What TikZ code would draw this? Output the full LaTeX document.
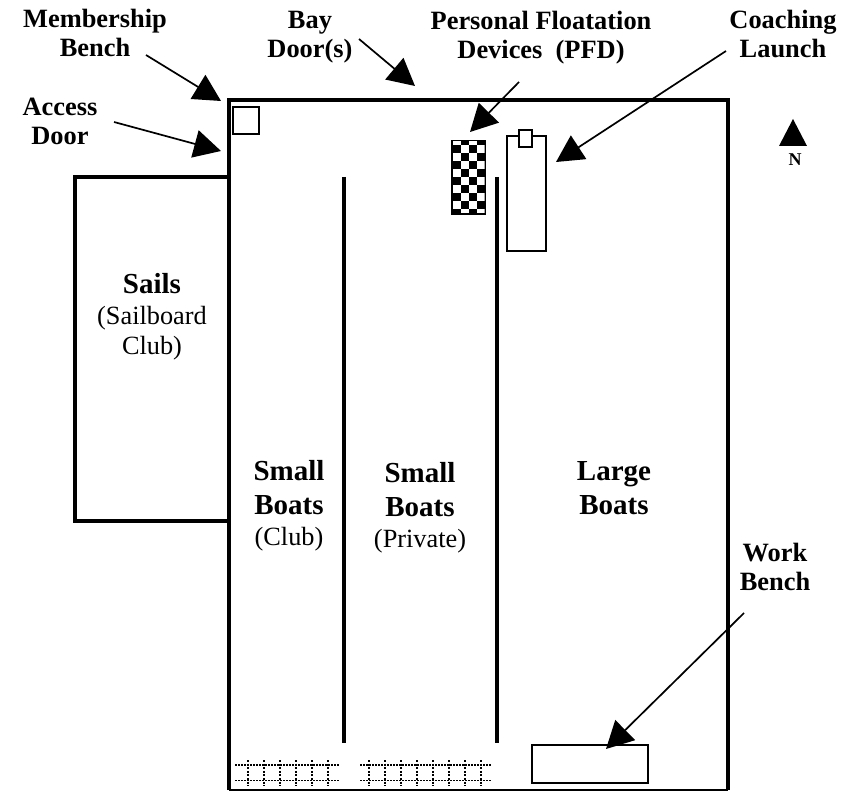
\documentclass[tikz,border=0pt]{standalone}
\usepackage{fontspec}
\setmainfont{Liberation Serif}
\usetikzlibrary{calc}
\usetikzlibrary{positioning}
\usetikzlibrary{arrows.meta}
\newcommand{\bigbf}[1]{{\fontsize{29}{34}\selectfont\bfseries #1}}
\tikzstyle{wall} = [line width=3.5pt]
\tikzstyle{thinwall} = [line width=2pt]
\tikzstyle{boxnode} = [draw, rectangle, line width=1.4pt, inner sep=0pt, fill=white]
\tikzstyle{lblnode} = [align=center, inner sep=0pt, font=\fontsize{26.4}{29}\selectfont\bfseries]
\tikzstyle{areanode} = [align=center, inner sep=0pt, font=\fontsize{26.3}{34}\selectfont]
\tikzstyle{pointer} = [line width=1.7pt, -{Triangle[length=27pt,width=28pt]}]
\tikzstyle{rack} = [line width=1.5pt, dash pattern=on 1.5pt off 1.5pt]
\tikzstyle{rackpost} = [line width=1.9pt, dash pattern=on 1.9pt off 1.7pt]

\begin{document}
\begin{tikzpicture}[x=1pt, y=-1pt]
  \useasboundingbox (0,0) rectangle (859,791);

  \draw[wall] (229,790) -- (229,100) -- (728,100) -- (728,790);
  \draw[thinwall] (229,790) -- (728,790);
  \draw[wall] (229,177) -- (75,177) -- (75,521) -- (229,521);
  \draw[wall] (344,177) -- (344,743);
  \draw[wall] (497,177) -- (497,743);

  \node[boxnode, minimum width=26pt, minimum height=27pt] (M_bench) at (246,120.5) {};
  \node[boxnode, minimum width=39pt, minimum height=115pt] (C_launch) at (526.5,193.5) {};
  \node[boxnode, minimum width=13pt, minimum height=17pt] (C_bow) at (525.5,138.5) {};
  \node[boxnode, minimum width=116pt, minimum height=38pt] (W_bench) at (590,764) {};
  \node[boxnode, fill=black, minimum width=33pt, minimum height=73pt] (PFD_rack) at (468.5,177.5) {};

  \begin{scope}
    \clip (453,142) rectangle (484.5,213);
    \foreach \r in {0,...,9} {
      \foreach \c in {0,...,3} {
        \pgfmathparse{int(mod(\r+\c,2))}
        \ifnum\pgfmathresult=0
          \fill[white] ({452.5+\c*8.2},{137+\r*8}) rectangle +(8.2,8);
        \fi
      }
    }
  \end{scope}

  \foreach \xa/\xb/\xc/\n in {235/340/248.3/5, 360/491/369.3/7} {
    \draw[rack] (\xa,765) -- (\xb,765);
    \draw[rack] (\xa,780.5) -- (\xb,780.5);
    \foreach \i in {0,...,\n} {
      \pgfmathsetmacro{\xv}{\xc+\i*16}
      \draw[rackpost] (\xv,760) -- (\xv,786);
    }
  }

  \node[lblnode] (L_memb) at (95,33) {Membership\\Bench};
  \node[lblnode] (L_access) at (60,121) {Access\\Door};
  \node[lblnode] (L_bay) at (310,37) {Bay\\Door(s)};
  \node[lblnode] (L_pfd) at (541,38) {Personal Floatation\\Devices\ \ (PFD)};
  \node[lblnode] (L_coach) at (783,34) {Coaching\\Launch};
  \node[lblnode] (L_work) at (775,567) {Work\\Bench};

  \node[areanode, font=\fontsize{26.3}{30.5}\selectfont] (A_sails) at (152,317) {\bigbf{Sails}\\(Sailboard\\Club)};
  \node[areanode] (A_club) at (289,506) {\bigbf{Small}\\\bigbf{Boats}\\[-3pt](Club)};
  \node[areanode] (A_priv) at (420,508) {\bigbf{Small}\\\bigbf{Boats}\\[-3pt](Private)};
  \node[areanode] (A_large) at (614,488.5) {\bigbf{Large}\\\bigbf{Boats}};

  \fill (793,119) -- (807,146) -- (779,146) -- cycle;
  \node[inner sep=0pt, font=\fontsize{18}{18}\selectfont\bfseries] (N_mark) at (795,160) {N};

  \coordinate (t_memb) at (221,101);
  \coordinate (t_access) at (221,151);
  \coordinate (t_bay) at (415,86);
  \coordinate (t_pfd) at (470,132);
  \coordinate (t_coach) at (556,162);
  \coordinate (t_work) at (606,749);

  \draw[pointer] ($(L_memb)+(51,22)$) -- (t_memb);
  \draw[pointer] ($(L_access)+(54,1)$) -- (t_access);
  \draw[pointer] ($(L_bay)+(49,2)$) -- (t_bay);
  \draw[pointer] ($(L_pfd)+(-22,44)$) -- (t_pfd);
  \draw[pointer] ($(L_coach)+(-57,17)$) -- (t_coach);
  \draw[pointer] ($(L_work)+(-31,46)$) -- (t_work);
\end{tikzpicture}
\end{document}
